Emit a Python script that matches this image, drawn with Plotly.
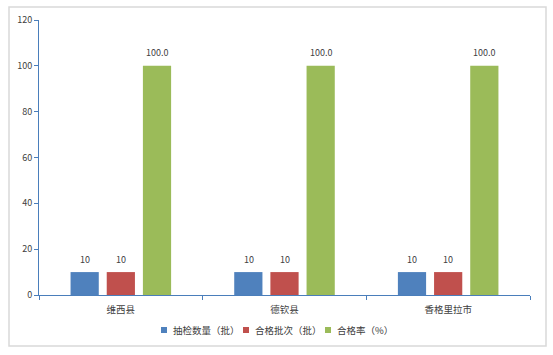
import plotly.graph_objects as go

categories = ["维西县", "德钦县", "香格里拉市"]
series_names = ["抽检数量（批）", "合格批次（批）", "合格率（%）"]
sample_count = [10, 10, 10]
pass_count = [10, 10, 10]
pass_rate = [100.0, 100.0, 100.0]
label_formats = ["{:.0f}", "{:.0f}", "{:.1f}"]
colors = ["#4f81bd", "#c0504d", "#9bbb59"]
y_ticks = [0, 20, 40, 60, 80, 100, 120]

series = [sample_count, pass_count, pass_rate]
fig = go.Figure()
for name, vals, col in zip(series_names, series, colors):
    fig.add_trace(go.Bar(name=name, x=categories, y=vals, marker_color=col,
                         marker_line_width=0, offsetgroup=name))

font = "Noto Sans CJK SC, Microsoft YaHei, sans-serif"
txt_color = "#404040"
annotations = []
shapes = []
n = len(series)
for si, (vals, fmt) in enumerate(zip(series, label_formats)):
    for ci, v in enumerate(vals):
        annotations.append(dict(
            x=ci, y=v, xref="x", yref="y", text=fmt.format(v), showarrow=False,
            xshift=(si - (n - 1) / 2) * 36, yshift=13,
            font=dict(size=9, color=txt_color, family=font)))

# custom legend (small squares + labels)
legend_sq_x = [0.2485, 0.4155, 0.5825]
sq_w = 0.0122
sq_y0, sq_y1 = -0.1382, -0.1164
for lx, name, col in zip(legend_sq_x, series_names, colors):
    shapes.append(dict(type="rect", xref="paper", yref="paper",
                       x0=lx, x1=lx + sq_w, y0=sq_y0, y1=sq_y1,
                       fillcolor=col, line=dict(width=0)))
    annotations.append(dict(x=lx + sq_w + 0.008, y=(sq_y0 + sq_y1) / 2,
                            xref="paper", yref="paper", xanchor="left", yanchor="middle",
                            text=name, showarrow=False,
                            font=dict(size=9.5, color=txt_color, family=font)))

shapes.append(dict(type="rect", xref="paper", yref="paper",
                   x0=-0.0611, x1=1.0326, y0=-0.1855, y1=1.047,
                   line=dict(color="#d9d9d9", width=1.5), fillcolor="rgba(0,0,0,0)",
                   layer="below"))

fig.update_layout(
    width=553, height=355,
    margin=dict(l=39, r=23, t=20, b=60, autoexpand=False),
    paper_bgcolor="white", plot_bgcolor="white",
    barmode="group", bargap=0.337, bargroupgap=0.22,
    font=dict(family=font, size=9, color=txt_color),
    showlegend=False,
    annotations=annotations,
    shapes=shapes,
)
fig.update_xaxes(type="category", showline=True, linecolor="#4a7ebb", linewidth=1,
                 ticks="outside", tickson="boundaries", ticklen=4, tickcolor="#4a7ebb",
                 ticklabelstandoff=6,
                 showgrid=False, tickfont=dict(size=9.5, color=txt_color))
fig.update_yaxes(range=[0, 120], tickvals=y_ticks, showline=True, linecolor="#4a7ebb",
                 linewidth=1, ticks="outside", ticklen=4, tickcolor="#4a7ebb",
                 showgrid=False, zeroline=False, tickfont=dict(size=9, color=txt_color))

fig.write_html("out.html")
